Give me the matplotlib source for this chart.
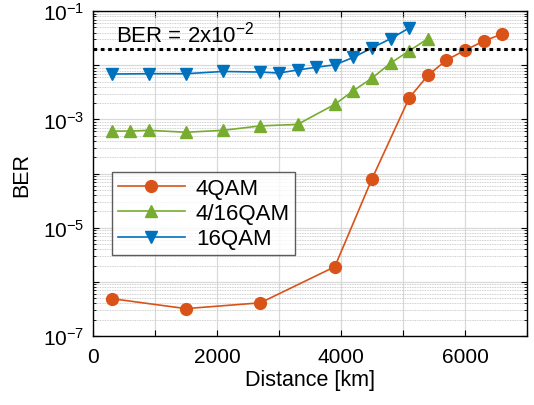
import numpy as np
import matplotlib.pyplot as plt
from matplotlib.ticker import LogLocator, FixedLocator, FuncFormatter

plt.rcParams["font.family"] = ["Liberation Sans", "DejaVu Sans"]
plt.rcParams["mathtext.fontset"] = "custom"
plt.rcParams["mathtext.rm"] = "Liberation Sans"
plt.rcParams["mathtext.it"] = "Liberation Sans:italic"

# -----------------------------
# MEASURED BER VS DISTANCE
# -----------------------------
dist_4qam = [300, 1500, 2700, 3900, 4500, 5100, 5400, 5700, 6000, 6300, 6600]
ber_4qam = [4.9e-7, 3.2e-7, 4.1e-7, 1.9e-6, 8.0e-5, 2.5e-3, 6.5e-3, 1.25e-2, 1.9e-2, 2.8e-2, 3.8e-2]

dist_416qam = [300, 600, 900, 1500, 2100, 2700, 3300, 3900, 4200, 4500, 4800, 5100, 5400]
ber_416qam = [6.1e-4, 6.1e-4, 6.3e-4, 5.8e-4, 6.3e-4, 7.6e-4, 8.1e-4, 1.9e-3, 3.4e-3,
              5.8e-3, 1.1e-2, 1.85e-2, 3.1e-2]

dist_16qam = [300, 900, 1500, 2100, 2700, 3000, 3300, 3600, 3900, 4200, 4500, 4800, 5100]
ber_16qam = [6.9e-3, 7.0e-3, 7.0e-3, 7.7e-3, 7.5e-3, 7.2e-3, 8.2e-3, 9.2e-3, 1.02e-2,
             1.4e-2, 2.1e-2, 3.1e-2, 4.9e-2]

ber_limit = 2e-2

orange = "#D95319"
green = "#77AC30"
blue = "#0072BD"


def decade_label(v, pos):
    e = int(round(np.log10(v)))
    # only odd decades get a label
    return f"$10^{{{e}}}$" if e % 2 != 0 else ""


def main():
    fig = plt.figure(figsize=(5.34, 4.06), dpi=100)
    ax = fig.add_axes([0.174, 0.170, 0.813, 0.800])

    ax.plot(dist_4qam, ber_4qam, "-o", color=orange, lw=1.2, ms=8.5, label="4QAM")
    ax.plot(dist_416qam, ber_416qam, "-^", color=green, lw=1.2, ms=9, label="4/16QAM")
    ax.plot(dist_16qam, ber_16qam, "-v", color=blue, lw=1.2, ms=9, label="16QAM")

    # FEC threshold
    ax.axhline(ber_limit, color="black", ls=(0, (1.2, 1.2)), lw=2.2)
    ax.text(380, 3.8e-2, "BER = 2x10$^{-2}$", fontsize=16, va="center")

    ax.set_yscale("log")
    ax.set_xlim(0, 7000)
    ax.set_ylim(1e-7, 1e-1)

    ax.xaxis.set_major_locator(FixedLocator(np.arange(0, 7001, 1000)))
    ax.xaxis.set_major_formatter(FuncFormatter(
        lambda v, p: f"{int(v)}" if int(v) % 2000 == 0 else ""))
    ax.yaxis.set_major_locator(LogLocator(base=10, numticks=10))
    ax.yaxis.set_minor_locator(LogLocator(base=10, subs=np.arange(2, 10), numticks=20))
    ax.yaxis.set_major_formatter(FuncFormatter(decade_label))

    ax.grid(True, which="major", color="#d9d9d9", lw=0.9)
    ax.grid(True, which="minor", axis="y", color="#bfbfbf", ls=(0, (1, 1)), lw=0.6)
    ax.set_axisbelow(True)

    ax.tick_params(which="both", direction="in", top=True, right=True, labelsize=15)
    ax.tick_params(which="major", length=4)
    ax.tick_params(which="minor", length=2)
    ax.tick_params(axis="x", pad=8)
    ax.tick_params(axis="y", pad=6)
    for s in ax.spines.values():
        s.set_linewidth(1.0)

    ax.set_xlabel("Distance [km]", fontsize=15.5, labelpad=2)
    ax.set_ylabel("BER", fontsize=15.5, labelpad=8)

    leg = ax.legend(loc="upper left", bbox_to_anchor=(0.045, 0.505), fontsize=16,
                    frameon=True, fancybox=False, edgecolor="#333333",
                    handlelength=3.0, borderpad=0.25, labelspacing=0.2,
                    handletextpad=0.5, borderaxespad=0)
    leg.get_frame().set_linewidth(1.0)

    fig.savefig("out.png", dpi=100)


if __name__ == "__main__":
    main()
